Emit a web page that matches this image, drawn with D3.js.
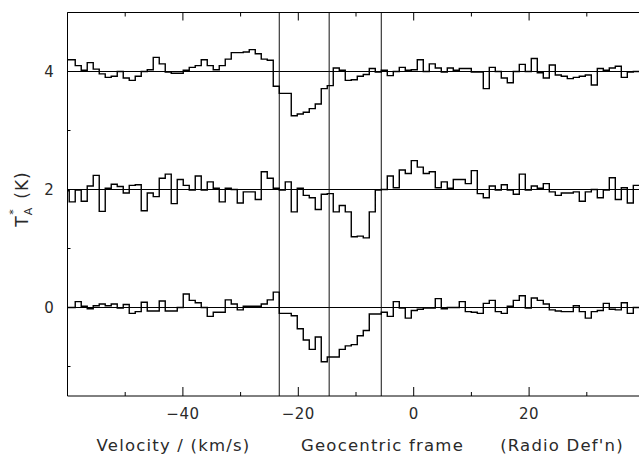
<!DOCTYPE html>
<html><head><meta charset="utf-8">
<script src="https://cdn.jsdelivr.net/npm/d3@7"></script>
<style>
html,body{margin:0;padding:0;background:#fff;}
svg text{font-family:"DejaVu Sans",sans-serif;fill:#2a2a2a;}
</style></head>
<body>
<svg id="chart" width="639" height="462"></svg>
<script>
// Channel grid of the spectra (km/s)
const channelStart = -60.74;
const channelWidth = 1.04;
// Spectra, relative to their baselines (K)
const spec4 = [0.20,0.20,0.10,0.02,0.15,0.04,-0.04,-0.10,-0.08,0.00,-0.11,-0.15,-0.08,0.00,0.03,0.24,0.13,-0.01,-0.03,-0.03,0.02,0.07,0.10,0.20,0.10,0.03,0.10,0.21,0.32,0.32,0.33,0.37,0.30,0.21,0.19,-0.25,-0.37,-0.37,-0.75,-0.72,-0.69,-0.63,-0.55,-0.29,-0.24,0.06,0.02,-0.15,-0.14,-0.08,-0.05,0.05,-0.01,0.02,-0.07,0.00,0.07,0.02,0.03,0.20,0.00,0.13,0.06,-0.01,0.06,0.02,0.05,0.05,-0.01,-0.01,-0.29,0.07,0.00,-0.11,-0.19,0.00,0.12,0.00,0.22,-0.02,-0.11,0.11,-0.06,-0.08,-0.12,-0.10,-0.08,-0.06,-0.23,0.05,0.02,0.06,0.09,-0.10,-0.01,0.00];
const spec2 = [-0.02,-0.21,-0.01,-0.20,0.06,0.24,-0.37,0.02,0.09,0.05,-0.06,0.07,0.08,-0.36,-0.06,-0.12,0.19,0.26,-0.24,0.17,0.07,-0.01,0.23,-0.01,0.13,0.02,-0.21,0.02,0.00,-0.23,-0.04,-0.04,-0.17,0.30,0.19,0.02,-0.01,0.13,-0.38,0.02,-0.10,-0.14,-0.34,-0.08,-0.07,-0.38,-0.27,-0.38,-0.80,-0.79,-0.82,-0.38,-0.01,0.00,0.23,0.03,0.33,0.27,0.49,0.38,0.27,0.30,0.03,0.13,0.02,0.17,0.17,0.10,0.32,-0.07,-0.14,0.06,-0.01,0.08,-0.01,-0.08,0.26,-0.01,0.06,0.02,0.10,-0.04,-0.10,-0.06,-0.06,-0.04,-0.20,-0.04,0.00,-0.14,-0.01,0.20,-0.17,0.03,-0.23,0.07];
const spec0 = [0.00,0.00,0.10,0.02,-0.02,0.03,0.06,0.03,0.06,-0.01,0.05,-0.10,-0.07,0.09,-0.06,-0.06,0.11,-0.06,-0.06,0.00,0.23,0.12,0.08,0.00,-0.15,-0.08,-0.08,0.13,0.06,-0.04,0.02,0.02,0.02,0.06,0.13,0.26,-0.10,-0.10,-0.14,-0.36,-0.55,-0.71,-0.50,-0.92,-0.84,-0.84,-0.71,-0.65,-0.63,-0.48,-0.39,-0.11,-0.11,-0.08,-0.15,0.10,-0.01,-0.18,-0.05,-0.03,-0.01,-0.01,0.15,-0.02,0.00,0.00,0.10,-0.07,-0.08,-0.10,0.07,0.12,-0.07,-0.10,0.02,0.12,0.20,-0.01,0.16,0.12,0.06,-0.04,-0.06,-0.07,-0.07,0.03,-0.07,-0.18,-0.07,-0.05,0.07,-0.03,-0.04,0.08,-0.10,0.00];
const spectra = [spec0, spec2, spec4];
const baselines = [0, 2, 4];
const markerVelocities = [-23.3, -14.65, -5.62];
const xMajorTicks = [-60, -40, -20, 0, 20, 40];
const xMinorTicks = [-50, -30, -10, 10, 30];
const yMajorTicks = [0, 2, 4];
const yMinorTicks = [-1, 1, 3];
const xTitleParts = ["Velocity / (km/s)", "Geocentric frame", "(Radio Def'n)"];

const svg = d3.select("#chart");
const L = 67.5, R = 644.5, T = 12.5, B = 396;
const x = d3.scaleLinear().domain([-60, 40]).range([L, R]);
const y = d3.scaleLinear().domain([-1.5, 5]).range([B, T]);

svg.append("defs").append("clipPath").attr("id","clip")
  .append("rect").attr("x", L).attr("y", T).attr("width", R - L).attr("height", B - T);

const g = svg.append("g");

// baselines
g.selectAll("line.base").data(baselines).enter().append("line")
  .attr("x1", L).attr("x2", R).attr("y1", d => y(d)).attr("y2", d => y(d))
  .attr("stroke", "#000").attr("stroke-width", 1);

// marker verticals
g.selectAll("line.mark").data(markerVelocities).enter().append("line")
  .attr("x1", d => x(d)).attr("x2", d => x(d)).attr("y1", T).attr("y2", B)
  .attr("stroke", "#111").attr("stroke-width", 1);

// spectra as histograms
const line = d3.line().x(d => x(d[0])).y(d => y(d[1])).curve(d3.curveStepAfter);
spectra.forEach((s, i) => {
  const pts = s.map((v, k) => [channelStart + k * channelWidth, v + baselines[i]]);
  pts.push([channelStart + s.length * channelWidth, s[s.length - 1] + baselines[i]]);
  g.append("path").attr("d", line(pts)).attr("fill", "none")
    .attr("stroke", "#000").attr("stroke-width", 1.4)
    .attr("clip-path", "url(#clip)");
});

// frame
svg.append("line").attr("x1", L).attr("x2", R).attr("y1", T).attr("y2", T).attr("stroke", "#000");
svg.append("line").attr("x1", L).attr("x2", R).attr("y1", B).attr("y2", B).attr("stroke", "#000");
svg.append("line").attr("x1", L).attr("x2", L).attr("y1", T).attr("y2", B).attr("stroke", "#000");

// ticks
const tickG = svg.append("g").attr("stroke", "#000").attr("stroke-width", 1);
xMajorTicks.forEach(t => {
  tickG.append("line").attr("x1", x(t)).attr("x2", x(t)).attr("y1", B).attr("y2", B - 9);
  tickG.append("line").attr("x1", x(t)).attr("x2", x(t)).attr("y1", T).attr("y2", T + 8);
});
xMinorTicks.forEach(t => {
  tickG.append("line").attr("x1", x(t)).attr("x2", x(t)).attr("y1", B).attr("y2", B - 4);
  tickG.append("line").attr("x1", x(t)).attr("x2", x(t)).attr("y1", T).attr("y2", T + 4);
});
yMinorTicks.forEach(t => {
  tickG.append("line").attr("x1", L).attr("x2", L + 3).attr("y1", y(t)).attr("y2", y(t));
});

// x tick labels
svg.selectAll("text.xl").data(xMajorTicks.filter(t => t > -60 && t < 40)).enter().append("text")
  .attr("x", d => x(d)).attr("y", 419).attr("text-anchor", "middle")
  .attr("font-size", 15).attr("letter-spacing", 0.5)
  .text(d => d < 0 ? "\u2212" + Math.abs(d) : d);

// y tick labels
svg.selectAll("text.yl").data(yMajorTicks).enter().append("text")
  .attr("x", 49).attr("y", d => y(d) + 5.5).attr("text-anchor", "middle")
  .attr("font-size", 15).text(d => d);

// x title
const titleX = [173.5, 382.5, 562];
xTitleParts.forEach((t, i) => {
  svg.append("text").attr("x", titleX[i]).attr("y", 451).attr("text-anchor", "middle")
    .attr("font-size", 16.5).attr("letter-spacing", 1.2).text(t);
});

// y title
const yt = svg.append("text").attr("transform", "translate(28,199) rotate(-90)")
  .attr("text-anchor", "middle").attr("font-size", 17).attr("letter-spacing", 1);
yt.append("tspan").text("T");
yt.append("tspan").attr("dy", 4).attr("font-size", 11).text("A");
yt.append("tspan").attr("dx", -8).attr("dy", -15).attr("font-size", 11).text("*");
yt.append("tspan").attr("dy", 11).text("\u2002(K)");
</script>
</body></html>
